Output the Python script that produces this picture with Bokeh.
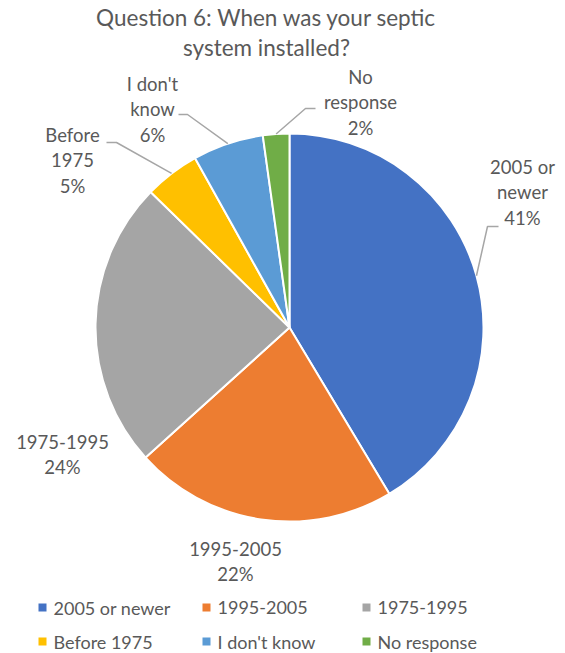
import numpy as np
from bokeh.plotting import figure
from bokeh.models import Range1d
from bokeh.core.properties import value
from bokeh.embed import file_html
from bokeh.resources import INLINE

# ---- data ----
categories = ["2005 or newer", "1995-2005", "1975-1995", "Before 1975", "I don't know", "No response"]
shares = [41.4, 21.9, 24.0, 4.6, 5.9, 2.2]
colors = ["#4472C4", "#ED7D31", "#A5A5A5", "#FFC000", "#5B9BD5", "#70AD47"]
label_lines = [["2005 or", "newer"], ["1995-2005"], ["1975-1995"], ["Before", "1975"], ["I don't", "know"], ["No", "response"]]
title_lines = ["Question 6: When was your septic", "system installed?"]

# ---- layout (pixels, y measured from top) ----
W, H = 565, 653
CX, CY, R = 289, 327, 194
label_pos = [(522, 166), (235, 548), (62, 441), (72, 134), (152, 83), (360, 76)]
leader_elbow = {0: [(487, 226), (498, 226)], 3: [(116, 142), (106, 142)],
                4: [(187, 114), (178, 114)], 5: [(305, 108), (315, 108)]}
LINE_H = 25.5
FONT = "Lato"
TXT = "#595959"

def Y(py):
    return H - py

p = figure(width=W, height=H, x_range=Range1d(0, W), y_range=Range1d(0, H),
           output_backend="svg", toolbar_location=None, min_border=0,
           x_axis_location=None, y_axis_location=None)
p.grid.visible = False
p.outline_line_color = None

total = sum(shares)
fr = np.array(shares) / total
cum = np.concatenate([[0], np.cumsum(fr)])
starts = np.pi / 2 - 2 * np.pi * cum[:-1]
ends = np.pi / 2 - 2 * np.pi * cum[1:]

p.wedge(x=[CX] * len(shares), y=[Y(CY)] * len(shares), radius=R,
        start_angle=list(starts), end_angle=list(ends), direction="clock",
        fill_color=colors, line_color="white", line_width=2)

# leader lines
for i, pts in leader_elbow.items():
    mid = 2 * np.pi * (cum[i] + cum[i + 1]) / 2
    sx = CX + R * np.sin(mid)
    sy = CY - R * np.cos(mid)
    xs = [sx] + [q[0] for q in pts]
    ys = [Y(sy)] + [Y(q[1]) for q in pts]
    p.line(xs, ys, line_color="#A6A6A6", line_width=1.5)

# data labels
for i, cat in enumerate(categories):
    lines = label_lines[i] + [f"{round(shares[i] / total * 100):d}%"]
    lx, ly = label_pos[i]
    p.text(x=[lx] * len(lines), y=[Y(ly + k * LINE_H) for k in range(len(lines))], text=lines,
           text_font=value(FONT), text_font_size="18.5px", text_color=TXT,
           text_align="center", text_baseline="middle")

# title
p.text(x=[266, 266], y=[Y(17), Y(47)], text=title_lines, text_font=value(FONT),
       text_font_size="22.5px", text_color=TXT, text_align="center", text_baseline="middle")

# legend
leg_x = [42, 206, 366]
leg_y = [607, 641]
for i, cat in enumerate(categories):
    lx = leg_x[i % 3]
    ly = leg_y[i // 3]
    p.rect(x=[lx], y=[Y(ly)], width=8, height=8, fill_color=colors[i], line_color=None)
    p.text(x=[lx + 11], y=[Y(ly)], text=[cat], text_font=value(FONT), text_font_size="18px",
           text_color=TXT, text_align="left", text_baseline="middle")

open("out.html", "w").write(file_html(p, INLINE))
